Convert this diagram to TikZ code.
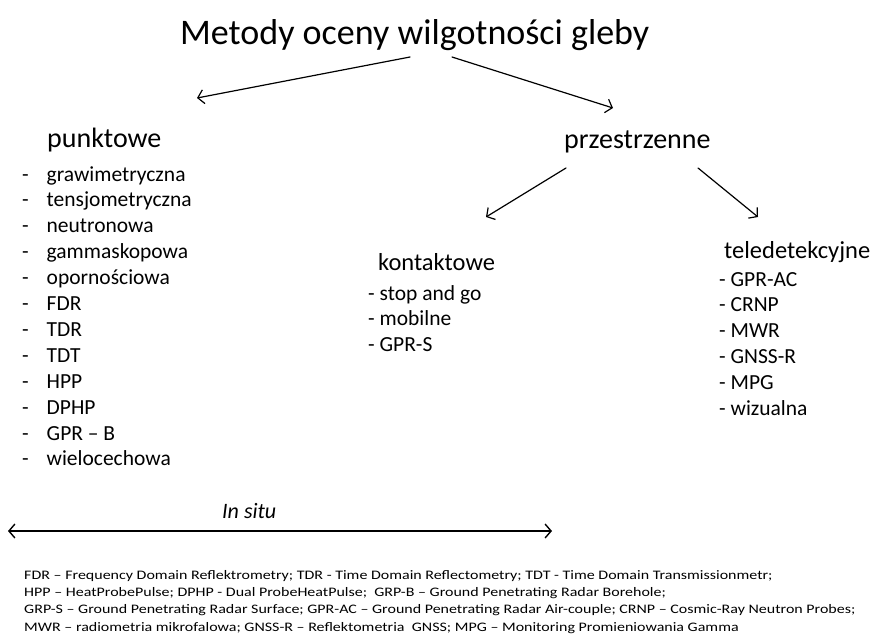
\documentclass[tikz,border=0pt]{standalone}
\usepackage{fontspec}
\setmainfont{Carlito}
\usetikzlibrary{arrows.meta}

\begin{document}
\begin{tikzpicture}[x=1pt,y=-1pt,>={Straight Barb[length=6pt,width=14pt]},line cap=round,
  every node/.style={inner sep=0pt},
  toplabel/.style={anchor=base west,font=\fontsize{36}{40}\selectfont},
  grouplabel/.style={anchor=base west,font=\fontsize{28}{32}\selectfont},
  sublabel/.style={anchor=base west,font=\fontsize{24.5}{28}\selectfont},
  listitem/.style={anchor=base west,font=\fontsize{21.5}{24}\selectfont},
  link/.style={->,line width=1.2pt}]
\useasboundingbox (0,0) rectangle (875,641);

% headings
\node[toplabel] (title) at (180,44) {Metody oceny wilgotności gleby};
\node[grouplabel] (punkt) at (47,147) {punktowe};
\node[grouplabel] (przestrz) at (564,148) {przestrzenne};
\node[sublabel] (kontakt) at (378,270) {kontaktowe};
\node[sublabel] (teledet) at (724,258) {teledetekcyjne};

% lists
\foreach \m [count=\i from 0] in {grawimetryczna,tensjometryczna,neutronowa,gammaskopowa,
    opornościowa,FDR,TDR,TDT,HPP,DPHP,GPR – B,wielocechowa}
  \node[listitem] (pt\i) at (22,{181+25.9*\i}) {\makebox[24.5pt][l]{-}\m};
\foreach \m [count=\i from 0] in {stop and go,mobilne,GPR-S}
  \node[listitem] (kt\i) at (368,{300+25.8*\i}) {- \m};
\foreach \m [count=\i from 0] in {GPR-AC,CRNP,MWR,GNSS-R,MPG,wizualna}
  \node[listitem] (td\i) at (719,{286+25.9*\i}) {- \m};

% arrows
\coordinate (title-l) at (410,57);
\coordinate (title-r) at (452,57);
\coordinate (punkt-in) at (197,98);
\coordinate (przestrz-in) at (613,108);
\coordinate (przestrz-l) at (566,168);
\coordinate (przestrz-r) at (698,168);
\coordinate (kontakt-in) at (486,217);
\coordinate (teledet-in) at (758,217);
\draw[link] (title-l) -- (punkt-in);
\draw[link] (title-r) -- (przestrz-in);
\draw[link] (przestrz-l) -- (kontakt-in);
\draw[link] (przestrz-r) -- (teledet-in);

% in situ
\node[anchor=base west,font=\fontsize{22}{26}\selectfont\itshape] (insitu) at (222,518) {In situ};
\coordinate (situ-l) at (8,531);
\coordinate (situ-r) at (552,531);
\draw[<->,line width=1.4pt] (situ-l) -- (situ-r);

% legend
\node[anchor=north west,align=left,xscale=1.23,font=\fontsize{13}{17.3}\selectfont] (legend) at (24,570)
  {FDR – Frequency Domain Reflektrometry; TDR - Time Domain Reflectometry; TDT - Time Domain Transmissionmetr;\\
   HPP – HeatProbePulse; DPHP - Dual ProbeHeatPulse;\ \ GRP-B – Ground Penetrating Radar Borehole;\\
   GRP-S – Ground Penetrating Radar Surface; GPR-AC – Ground Penetrating Radar Air-couple; CRNP – Cosmic-Ray Neutron Probes;\\
   MWR – radiometria mikrofalowa; GNSS-R – Reflektometria\ \ GNSS; MPG – Monitoring Promieniowania Gamma};
\end{tikzpicture}
\end{document}
